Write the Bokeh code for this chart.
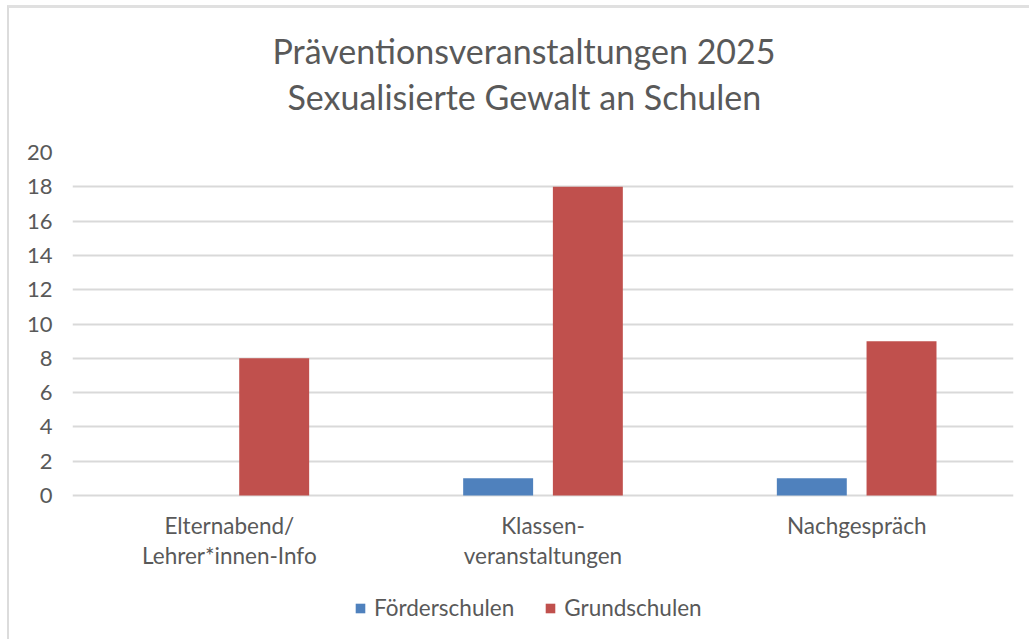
from bokeh.plotting import figure
from bokeh.models import (FactorRange, Range1d, Legend, LegendItem, Title, ColumnDataSource,
                          FixedTicker)
from bokeh.core.properties import value
from bokeh.transform import dodge
from bokeh.embed import file_html
from bokeh.resources import INLINE

# ---- data ----
categories = ["Elternabend/Lehrer*innen-Info", "Klassenveranstaltungen", "Nachgespräch"]
tick_labels_line1 = ["Elternabend/", "Klassen-", "Nachgespräch"]
tick_labels_line2 = ["Lehrer*innen-Info", "veranstaltungen", ""]
foerderschulen = [0, 1, 1]
grundschulen = [8, 18, 9]
series_names = ["Förderschulen", "Grundschulen"]
series_colors = ["#4f81bd", "#c0504d"]
y_ticks = [0, 2, 4, 6, 8, 10, 12, 14, 16, 18, 20]
y_max = 20
title_lines = ["Präventionsveranstaltungen 2025", "Sexualisierte Gewalt an Schulen"]

FONT = "Lato"
TXT = "#595959"
GRID = "#d9d9d9"

# layout (pixels): plot area 0..y_max spans 343 px, space below it (labels + legend) 147 px
AREA_PX, BELOW_PX = 343, 147

src = ColumnDataSource(dict(cat=categories, f=foerderschulen, g=grundschulen,
                            l1=tick_labels_line1, l2=tick_labels_line2))

p = figure(
    x_range=FactorRange(*categories),
    y_range=Range1d(-y_max * BELOW_PX / AREA_PX, y_max),
    width=1022, height=634,
    output_backend="svg", toolbar_location=None,
    min_border_left=63, min_border_right=18,
    min_border_top=144, min_border_bottom=0,
)
p.margin = (5, 0, 0, 7)
p.styles = {"border-top": "3px solid #e0e0e0", "border-left": "2px solid #dcdcdc"}
p.outline_line_color = None
p.background_fill_color = "white"
p.border_fill_color = "white"

r1 = p.vbar(x=dodge("cat", -0.143, range=p.x_range), top="f", width=0.223, source=src,
            fill_color=series_colors[0], line_color=None)
r2 = p.vbar(x=dodge("cat", 0.143, range=p.x_range), top="g", width=0.223, source=src,
            fill_color=series_colors[1], line_color=None)

# category labels (two lines) below the zero line
for col, off in (("l1", 30), ("l2", 60)):
    p.text(x="cat", y=0, text=col, source=src, y_offset=off,
           text_font=value(FONT), text_font_size="22.5px", text_color=TXT,
           text_align="center", text_baseline="middle")

# y axis
p.yaxis.ticker = FixedTicker(ticks=y_ticks)
p.yaxis.axis_line_color = None
p.yaxis.major_tick_line_color = None
p.yaxis.major_tick_out = 0
p.yaxis.minor_tick_line_color = None
p.yaxis.major_label_text_font = FONT
p.yaxis.major_label_text_font_size = "22px"
p.yaxis.major_label_text_color = TXT
p.yaxis.major_label_standoff = 20

p.xaxis.visible = False

p.xgrid.grid_line_color = None
p.ygrid.grid_line_color = GRID
p.ygrid.grid_line_width = 2
p.ygrid.ticker = FixedTicker(ticks=y_ticks)

# titles: spacer (closest to plot), second line, first line
p.add_layout(Title(text=" ", text_font=FONT, text_font_size="1px", standoff=31), "above")
p.add_layout(Title(text=title_lines[1], align="left", offset=215, text_font=FONT, text_font_size="34px",
                   text_font_style="normal", text_color=TXT, standoff=3), "above")
p.add_layout(Title(text=title_lines[0], align="left", offset=200, text_font=FONT, text_font_size="34px",
                   text_font_style="normal", text_color=TXT, standoff=3), "above")

legend = Legend(items=[LegendItem(label=series_names[0], renderers=[r1]),
                       LegendItem(label=series_names[1], renderers=[r2])],
                orientation="horizontal", location=(282, 21),
                label_text_font=FONT, label_text_font_size="22.5px", label_text_color=TXT,
                glyph_width=12, glyph_height=12, spacing=30, label_standoff=8,
                border_line_color=None, background_fill_alpha=0, margin=0, padding=4)
p.add_layout(legend, "center")

open("out.html", "w").write(file_html(p, INLINE))
